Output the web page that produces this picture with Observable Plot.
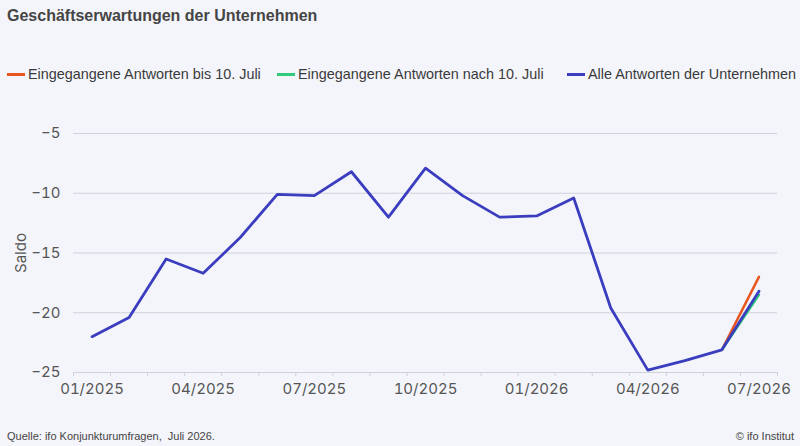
<!DOCTYPE html>
<html>
<head>
<meta charset="utf-8">
<script src="https://cdn.jsdelivr.net/npm/d3@7"></script>
<script src="https://cdn.jsdelivr.net/npm/@observablehq/plot@0.6"></script>
<style>
  html, body { margin: 0; padding: 0; background: #f4f5fb; }
  #wrap { position: relative; width: 800px; height: 446px; background: #f4f5fb; overflow: hidden; }
  #title { position: absolute; left: 7px; top: 7px; font: bold 16px "Liberation Sans", Arial, sans-serif; color: #454545; }
  #legend { position: absolute; left: 7px; top: 66px; font: 14.4px "Liberation Sans", Arial, sans-serif; color: #3a3a3a; white-space: nowrap; }
  .item { position: absolute; top: 0; display: flex; align-items: center; }
  .sw { display: inline-block; width: 18px; height: 3px; margin-right: 3px; }
  #chart { position: absolute; left: 0; top: 100px; }
  #src { position: absolute; left: 7px; top: 430px; font: 11px "Liberation Sans", Arial, sans-serif; color: #444; }
  #copy { position: absolute; right: 6px; top: 430px; font: 11px "Liberation Sans", Arial, sans-serif; color: #444; }
</style>
</head>
<body>
<div id="wrap">
  <div id="title">Geschäftserwartungen der Unternehmen</div>
  <div id="legend"></div>
  <div id="chart"></div>
  <div id="src">Quelle: ifo Konjunkturumfragen,&nbsp; Juli 2026.</div>
  <div id="copy">© ifo Institut</div>
</div>
<script>
const months = ["01/2025","02/2025","03/2025","04/2025","05/2025","06/2025","07/2025","08/2025","09/2025","10/2025","11/2025","12/2025","01/2026","02/2026","03/2026","04/2026","05/2026","06/2026","07/2026"];
const alleAntworten = [-22.0, -20.4, -15.5, -16.7, -13.7, -10.1, -10.2, -8.2, -12.0, -7.9, -10.2, -12.0, -11.9, -10.4, -19.6, -24.8, -24.0, -23.1, -18.2];
const bis10Juli = [{m: "06/2026", v: -23.1}, {m: "07/2026", v: -17.0}];
const nach10Juli = [{m: "06/2026", v: -23.1}, {m: "07/2026", v: -18.5}];
const yTicks = [-5, -10, -15, -20, -25];
const xLabelMonths = ["01/2025","04/2025","07/2025","10/2025","01/2026","04/2026","07/2026"];

const seriesNames = ["Eingegangene Antworten bis 10. Juli", "Eingegangene Antworten nach 10. Juli", "Alle Antworten der Unternehmen"];
const seriesColors = ["#e8561f", "#2ecc7a", "#3b3dbf"];

// legend
const legendPos = [0, 270, 560];
const leg = document.getElementById("legend");
seriesNames.forEach((n, i) => {
  const d = document.createElement("div");
  d.className = "item";
  d.style.left = legendPos[i] + "px";
  d.innerHTML = `<span class="sw" style="background:${seriesColors[i]}"></span><span>${n}</span>`;
  leg.appendChild(d);
});

const idx = m => months.indexOf(m);
const allData = alleAntworten.map((v, i) => ({i, v}));
const bisData = bis10Juli.map(d => ({i: idx(d.m), v: d.v}));
const nachData = nach10Juli.map(d => ({i: idx(d.m), v: d.v}));
const boundaries = d3.range(months.length + 1).map(i => i - 0.5);
const labelIdx = xLabelMonths.map(idx);

const chart = Plot.plot({
  width: 800,
  height: 310,
  marginLeft: 73,
  marginRight: 23,
  marginTop: 33,
  marginBottom: 38,
  style: {background: "transparent", fontFamily: "Inter, sans-serif", fontSize: "15px", color: "#555"},
  x: {type: "linear", domain: [-0.5, months.length - 0.5], axis: null},
  y: {domain: [-25, -5], axis: null},
  marks: [
    Plot.gridY(yTicks, {stroke: "#cfd1dd", strokeOpacity: 1, strokeWidth: 1}),
    Plot.axisY(yTicks, {tickSize: 0, tickPadding: 13, fontSize: 15, fill: "#555",
      label: "Saldo", labelAnchor: "center", labelArrow: "none", labelOffset: 58}),
    Plot.axisX(boundaries, {tickSize: 4, stroke: "#cfd1dd", tickFormat: () => "", label: null}),
    Plot.axisX(labelIdx, {tickSize: 0, tickPadding: 11, fontSize: 15, fill: "#555", tickFormat: i => months[i], label: null}),
    Plot.lineY(bisData, {x: "i", y: "v", stroke: seriesColors[0], strokeWidth: 2.5}),
    Plot.lineY(nachData, {x: "i", y: "v", stroke: seriesColors[1], strokeWidth: 2.5}),
    Plot.lineY(allData, {x: "i", y: "v", stroke: seriesColors[2], strokeWidth: 2.8})
  ]
});
document.getElementById("chart").appendChild(chart);
</script>
</body>
</html>
